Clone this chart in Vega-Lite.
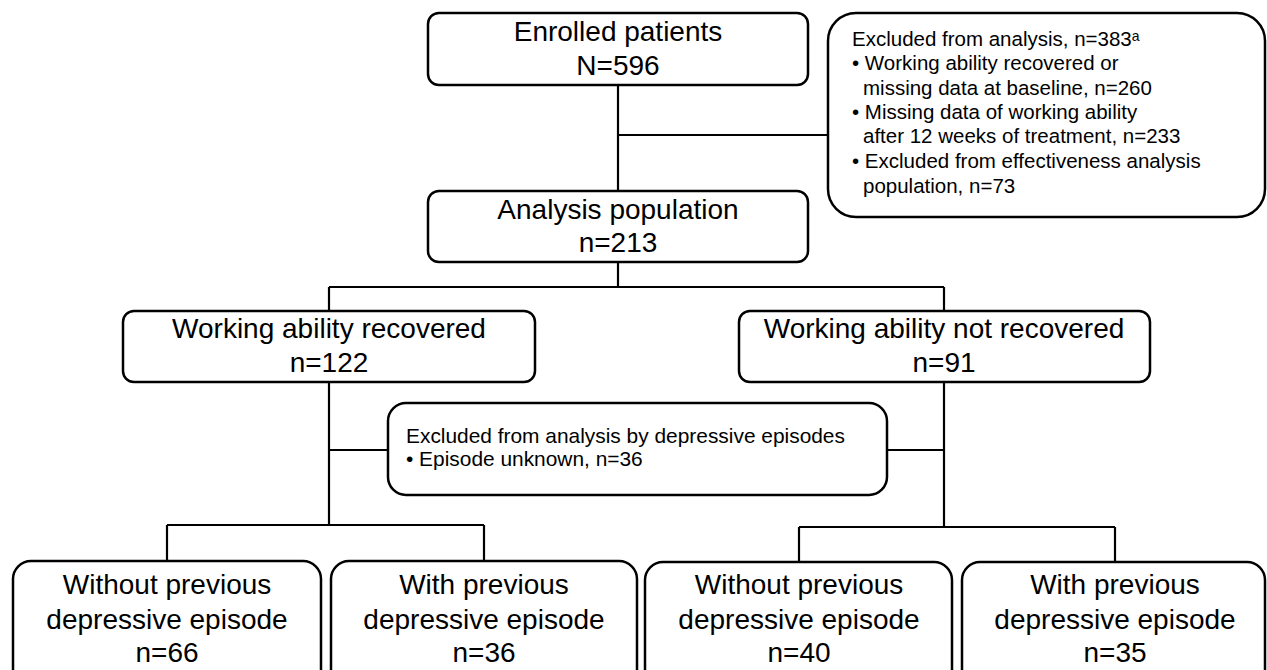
{
  "$schema": "https://vega.github.io/schema/vega-lite/v6.json",
  "width": 1267,
  "height": 670,
  "autosize": "none",
  "padding": 0,
  "background": "white",
  "config": {"view": {"stroke": null}},
  "datasets": {
    "boxes": [
      {"id": "enrolled", "grp": "main", "x": 428, "y": 13, "x2": 808, "y2": 85},
      {"id": "analysis", "grp": "main", "x": 428, "y": 191, "x2": 808, "y2": 262},
      {"id": "recovered", "grp": "main", "x": 123, "y": 311, "x2": 535, "y2": 382},
      {"id": "notrecovered", "grp": "main", "x": 739, "y": 311, "x2": 1150, "y2": 382},
      {"id": "excluded", "grp": "big", "x": 828, "y": 13, "x2": 1265, "y2": 217},
      {"id": "episode", "grp": "mid", "x": 388, "y": 403, "x2": 887, "y2": 495},
      {"id": "a", "grp": "mid", "x": 13, "y": 561, "x2": 321, "y2": 695},
      {"id": "b", "grp": "mid", "x": 331, "y": 561, "x2": 637, "y2": 695},
      {"id": "c", "grp": "mid", "x": 645, "y": 562, "x2": 952, "y2": 695},
      {"id": "d", "grp": "mid", "x": 962, "y": 562, "x2": 1265, "y2": 695}
    ],
    "lines": [
      {"x": 618, "y": 85, "x2": 618, "y2": 191},
      {"x": 618, "y": 135, "x2": 828, "y2": 135},
      {"x": 618, "y": 262, "x2": 618, "y2": 287},
      {"x": 329, "y": 287, "x2": 944, "y2": 287},
      {"x": 329, "y": 287, "x2": 329, "y2": 311},
      {"x": 944, "y": 287, "x2": 944, "y2": 311},
      {"x": 329, "y": 382, "x2": 329, "y2": 525},
      {"x": 329, "y": 450, "x2": 388, "y2": 450},
      {"x": 944, "y": 382, "x2": 944, "y2": 527},
      {"x": 887, "y": 450, "x2": 944, "y2": 450},
      {"x": 167, "y": 525, "x2": 484, "y2": 525},
      {"x": 167, "y": 525, "x2": 167, "y2": 561},
      {"x": 484, "y": 525, "x2": 484, "y2": 561},
      {"x": 799, "y": 527, "x2": 1115, "y2": 527},
      {"x": 799, "y": 527, "x2": 799, "y2": 562},
      {"x": 1115, "y": 527, "x2": 1115, "y2": 562}
    ],
    "bigtext": [
      {"label": "Enrolled patients", "x": 618, "y": 33},
      {"label": "N=596", "x": 618, "y": 67},
      {"label": "Analysis population", "x": 618, "y": 211},
      {"label": "n=213", "x": 618, "y": 244},
      {"label": "Working ability recovered", "x": 329, "y": 330},
      {"label": "n=122", "x": 329, "y": 364},
      {"label": "Working ability not recovered", "x": 944, "y": 330},
      {"label": "n=91", "x": 944, "y": 364},
      {"label": "Without previous", "x": 167, "y": 586},
      {"label": "depressive episode", "x": 167, "y": 621},
      {"label": "n=66", "x": 167, "y": 654},
      {"label": "With previous", "x": 484, "y": 586},
      {"label": "depressive episode", "x": 484, "y": 621},
      {"label": "n=36", "x": 484, "y": 654},
      {"label": "Without previous", "x": 799, "y": 586},
      {"label": "depressive episode", "x": 799, "y": 621},
      {"label": "n=40", "x": 799, "y": 654},
      {"label": "With previous", "x": 1115, "y": 586},
      {"label": "depressive episode", "x": 1115, "y": 621},
      {"label": "n=35", "x": 1115, "y": 654}
    ],
    "smalltext": [
      {"label": "Excluded from analysis, n=383ᵃ", "x": 852, "y": 40},
      {"label": "• Working ability recovered or", "x": 852, "y": 64},
      {"label": "missing data at baseline, n=260", "x": 863, "y": 89},
      {"label": "• Missing data of working ability", "x": 852, "y": 113},
      {"label": "after 12 weeks of treatment, n=233", "x": 863, "y": 137},
      {"label": "• Excluded from effectiveness analysis", "x": 852, "y": 162},
      {"label": "population, n=73", "x": 863, "y": 187}
    ],
    "episodetext": [
      {"label": "Excluded from analysis by depressive episodes", "x": 406, "y": 437},
      {"label": "• Episode unknown, n=36", "x": 406, "y": 460}
    ]
  },
  "encoding": {
    "x": {"field": "x", "type": "quantitative", "scale": {"domain": [0, 1267], "nice": false, "zero": false}, "axis": null},
    "y": {"field": "y", "type": "quantitative", "scale": {"domain": [0, 670], "nice": false, "zero": false, "reverse": true}, "axis": null}
  },
  "layer": [
    {
      "data": {"name": "boxes"},
      "transform": [{"filter": "datum.grp === 'main'"}],
      "mark": {"type": "rect", "fill": "white", "stroke": "black", "strokeWidth": 2.5, "cornerRadius": 11, "clip": true},
      "encoding": {"x2": {"field": "x2"}, "y2": {"field": "y2"}}
    },
    {
      "data": {"name": "boxes"},
      "transform": [{"filter": "datum.grp === 'mid'"}],
      "mark": {"type": "rect", "fill": "white", "stroke": "black", "strokeWidth": 2.5, "cornerRadius": 18, "clip": true},
      "encoding": {"x2": {"field": "x2"}, "y2": {"field": "y2"}}
    },
    {
      "data": {"name": "boxes"},
      "transform": [{"filter": "datum.grp === 'big'"}],
      "mark": {"type": "rect", "fill": "white", "stroke": "black", "strokeWidth": 2.5, "cornerRadius": 28, "clip": true},
      "encoding": {"x2": {"field": "x2"}, "y2": {"field": "y2"}}
    },
    {
      "data": {"name": "lines"},
      "mark": {"type": "rule", "stroke": "black", "strokeWidth": 2.2},
      "encoding": {"x2": {"field": "x2"}, "y2": {"field": "y2"}}
    },
    {
      "data": {"name": "bigtext"},
      "mark": {"type": "text", "font": "Liberation Sans", "fontSize": 28, "align": "center", "baseline": "middle", "color": "black"},
      "encoding": {"text": {"field": "label"}}
    },
    {
      "data": {"name": "smalltext"},
      "mark": {"type": "text", "font": "Liberation Sans", "fontSize": 20.5, "align": "left", "baseline": "middle", "color": "black"},
      "encoding": {"text": {"field": "label"}}
    },
    {
      "data": {"name": "episodetext"},
      "mark": {"type": "text", "font": "Liberation Sans", "fontSize": 20.9, "align": "left", "baseline": "middle", "color": "black"},
      "encoding": {"text": {"field": "label"}}
    }
  ]
}
